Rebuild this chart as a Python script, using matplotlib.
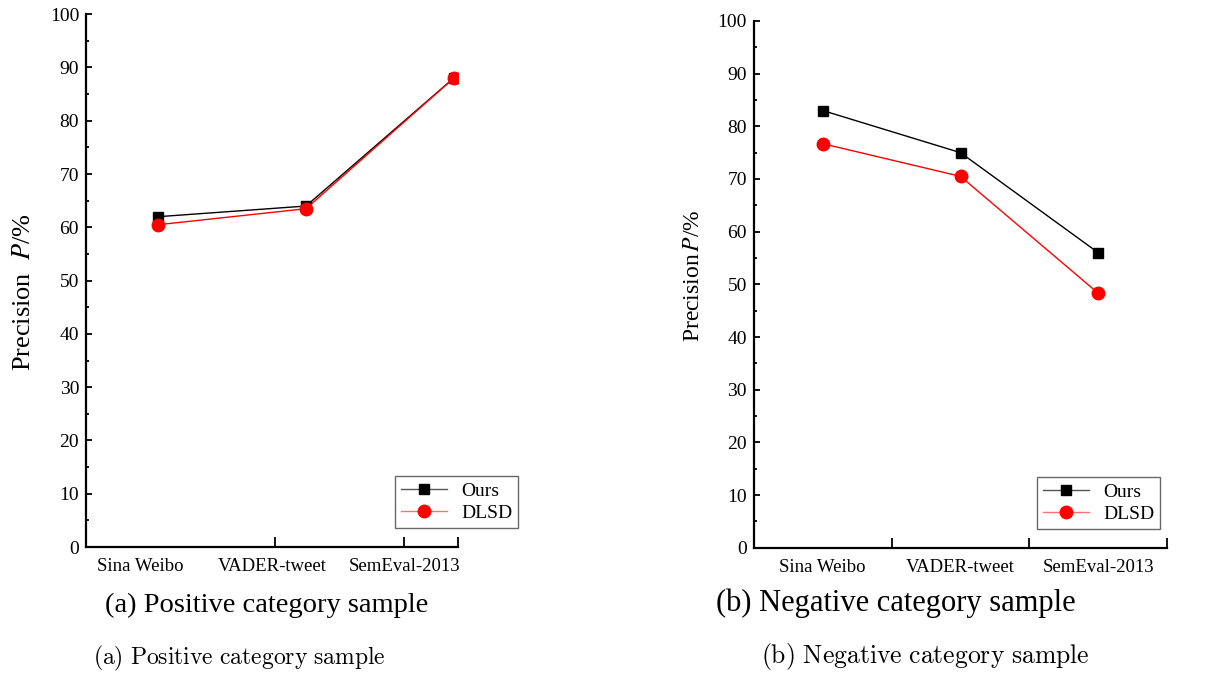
import matplotlib.pyplot as plt
from matplotlib.ticker import MultipleLocator, FixedLocator, NullFormatter

plt.rcParams['font.family'] = ['Liberation Serif', 'DejaVu Serif']

datasets = ['Sina Weibo', 'VADER-tweet', 'SemEval-2013']
series_names = ['Ours', 'DLSD']

pos_ours = [62.0, 64.0, 88.0]
pos_dlsd = [60.5, 63.5, 88.0]
neg_ours = [83.0, 75.0, 56.0]
neg_dlsd = [76.7, 70.5, 48.3]

caption_a = 'Positive category sample'
caption_b = 'Negative category sample'

W, H = 1212, 677
fig = plt.figure(figsize=(12.12, 6.77), dpi=100)
ax1 = fig.add_axes([0.071, 0.192, 0.307, 0.787])
ax2 = fig.add_axes([0.622, 0.191, 0.341, 0.778])


def style_axis(ax, xlim, sep_ticks, label_pos, legend_corner, ylabel, label_xy, ylabel_size):
    ax.set_xlim(*xlim)
    ax.set_ylim(0, 100)
    for s in ['top', 'right']:
        ax.spines[s].set_visible(False)
    for s in ['left', 'bottom']:
        ax.spines[s].set_linewidth(1.6)
    ax.yaxis.set_major_locator(MultipleLocator(10))
    ax.yaxis.set_minor_locator(MultipleLocator(5))
    ax.tick_params(axis='y', which='major', direction='in', length=4.5, width=1.3,
                   labelsize=14, pad=5)
    ax.tick_params(axis='y', which='minor', direction='in', length=2.5, width=1.3)
    # category labels between separator marks
    ax.xaxis.set_major_locator(FixedLocator(label_pos))
    ax.set_xticklabels(datasets)
    ax.xaxis.set_minor_locator(FixedLocator(sep_ticks))
    ax.xaxis.set_minor_formatter(NullFormatter())
    ax.tick_params(axis='x', which='major', length=0, labelsize=13.5, pad=8)
    ax.tick_params(axis='x', which='minor', direction='in', length=7, width=1.3)
    ax.set_ylabel(ylabel, fontsize=ylabel_size, math_fontfamily='stix')
    ax.yaxis.set_label_coords(*label_xy)
    leg = ax.legend(loc='lower right', bbox_to_anchor=legend_corner,
                    bbox_transform=fig.transFigure, frameon=True,
                    fancybox=False, fontsize=14, handlelength=2.4,
                    borderpad=0.3, labelspacing=0.25, handletextpad=0.7,
                    borderaxespad=0)
    leg.get_frame().set_edgecolor('#444444')
    leg.get_frame().set_linewidth(1.0)
    leg.get_lines()[0].set_color('#555555')
    leg.get_lines()[0].set_markerfacecolor('black')
    leg.get_lines()[0].set_markeredgecolor('black')
    leg.get_lines()[1].set_color('#ff7070')
    leg.get_lines()[1].set_markerfacecolor('red')
    leg.get_lines()[1].set_markeredgecolor('red')


x_pos = [0, 1, 2]

ax1.plot(x_pos, pos_ours, color='black', lw=1.0, marker='s', ms=7.5, label=series_names[0])
ax1.plot(x_pos, pos_dlsd, color='red', lw=1.0, marker='o', ms=9, label=series_names[1])
style_axis(ax1, (-0.49, 2.03), [0.79, 1.66, 2.03], [-0.12, 0.77, 1.67],
           (518 / W, 1 - 528 / H), 'Precision  $P$/%', (-0.138, 0.478), 19)

ax2.plot(x_pos, neg_ours, color='black', lw=1.0, marker='s', ms=7.5, label=series_names[0])
ax2.plot(x_pos, neg_dlsd, color='red', lw=1.0, marker='o', ms=9, label=series_names[1])
style_axis(ax2, (-0.5, 2.5), [0.5, 1.5, 2.5], [0, 1, 2],
           (1160 / W, 1 - 529 / H), 'Precision$\\,P$/%', (-0.12, 0.517), 17)

# captions
fig.text(267 / W, 1 - 605 / H, '(a) ' + caption_a, ha='center', va='center', fontsize=20.5)
fig.text(896 / W, 1 - 603 / H, '(b) ' + caption_b, ha='center', va='center', fontsize=22)
fig.text(239 / W, 1 - 658 / H, r'$\mathrm{(a)\ Positive\ category\ sample}$',
         ha='center', va='center', fontsize=17, math_fontfamily='cm')
fig.text(925 / W, 1 - 657 / H, r'$\mathrm{(b)\ Negative\ category\ sample}$',
         ha='center', va='center', fontsize=18.5, math_fontfamily='cm')

fig.savefig('out.png', dpi=100)
